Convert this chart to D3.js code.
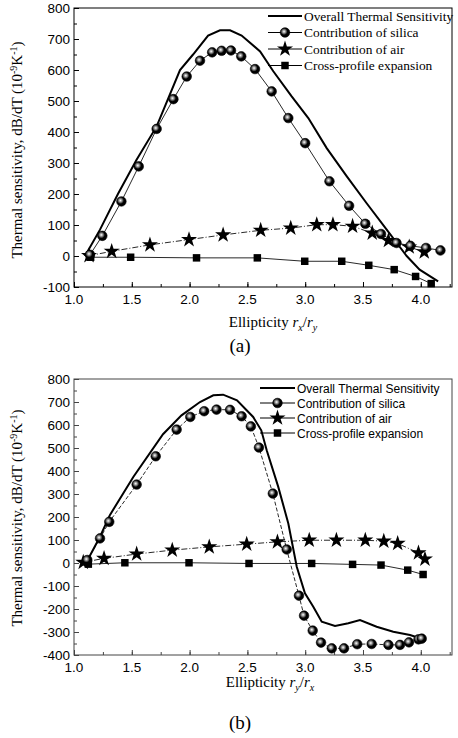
<!DOCTYPE html>
<html>
<head>
<meta charset="utf-8">
<script src="https://cdn.jsdelivr.net/npm/d3@7"></script>
<style>
  body { margin: 0; background: #fff; }
  svg { display: block; }
</style>
</head>
<body>
<div id="chart"></div>
<script>
// ---------- data ----------
let xTicks = [1.0, 1.5, 2.0, 2.5, 3.0, 3.5, 4.0];
let yTicksA = [-100, 0, 100, 200, 300, 400, 500, 600, 700, 800];
let yTicksB = [-400, -300, -200, -100, 0, 100, 200, 300, 400, 500, 600, 700, 800];
let seriesNames = ["Overall Thermal Sensitivity", "Contribution of silica", "Contribution of air", "Cross-profile expansion"];

// panel (a)
let totalA_x = [1.095, 1.225, 1.38, 1.54, 1.715, 1.917, 2.03, 2.16, 2.263, 2.35, 2.45, 2.61, 2.724, 2.883, 3.027, 3.186, 3.36, 3.53, 3.705, 3.878, 3.99, 4.15];
let totalA_y = [0, 85, 200, 310, 418, 600, 650, 711, 728, 728, 711, 660, 596, 515, 445, 348, 257, 171, 85, 0, -44, -82];
let silicaA_x = [1.138, 1.245, 1.41, 1.56, 1.715, 1.86, 1.975, 2.09, 2.195, 2.277, 2.358, 2.447, 2.566, 2.71, 2.854, 3.0, 3.21, 3.38, 3.52, 3.656, 3.79, 3.91, 4.045, 4.17];
let silicaA_y = [4, 65, 176, 289, 410, 506, 579, 630, 657, 662, 663, 644, 603, 531, 445, 364, 241, 162, 104, 71, 42, 33, 26, 18];
let airA_x = [1.13, 1.326, 1.657, 1.995, 2.29, 2.615, 2.875, 3.1, 3.24, 3.41, 3.58, 3.72, 3.9, 4.03];
let airA_y = [1, 15, 36, 53, 68, 83, 90, 101, 101, 96, 74, 50, 29, 13];
let crossA_x = [1.144, 1.49, 2.06, 2.586, 2.996, 3.316, 3.55, 3.77, 3.955, 4.09];
let crossA_y = [-4, -4, -6, -6, -17, -17, -30, -44, -66, -89];

// panel (b)
let totalB_x = [1.104, 1.225, 1.31, 1.513, 1.77, 1.93, 2.09, 2.205, 2.29, 2.41, 2.55, 2.62, 2.667, 2.767, 2.854, 2.927, 2.998, 3.07, 3.143, 3.258, 3.373, 3.474, 3.618, 3.762, 3.907, 3.993];
let totalB_y = [0, 114, 208, 374, 560, 642, 700, 729, 732, 707, 635, 577, 490, 331, 172, -16, -132, -190, -255, -274, -262, -248, -277, -299, -313, -327];
let silicaB_x = [1.115, 1.225, 1.305, 1.542, 1.707, 1.888, 2.006, 2.126, 2.233, 2.35, 2.45, 2.53, 2.6, 2.72, 2.84, 2.946, 2.99, 3.065, 3.137, 3.23, 3.336, 3.45, 3.575, 3.72, 3.82, 3.898, 3.98, 4.008];
let silicaB_y = [13, 107, 179, 341, 464, 580, 635, 660, 667, 666, 638, 594, 502, 302, 59, -142, -229, -294, -346, -371, -371, -353, -352, -356, -356, -345, -332, -329];
let airB_x = [1.08, 1.26, 1.542, 1.85, 2.17, 2.494, 2.76, 3.035, 3.27, 3.52, 3.68, 3.8, 3.98, 4.036];
let airB_y = [3, 20, 39, 56, 70, 82, 92, 99, 99, 99, 95, 85, 44, 17];
let crossB_x = [1.124, 1.44, 1.995, 2.514, 3.056, 3.41, 3.656, 3.887, 4.02];
let crossB_y = [-5, 1, 1, -2, -2, -6, -9, -31, -50];


class PanelVis {

    constructor(svg, cfg){
        this.svg = svg;
        this.cfg = cfg;
        this.initVis();
    }

    initVis(){
        let vis = this;
        let c = vis.cfg;

        vis.x = d3.scaleLinear().domain([1.0, 4.27]).range([c.left, c.right]);
        vis.y = d3.scaleLinear().domain(c.yDomain).range([c.bottom, c.top]);

        vis.g = vis.svg.append("g").attr("class", "panel");

        // frame
        vis.g.append("rect")
            .attr("x", c.left).attr("y", c.top)
            .attr("width", c.right - c.left).attr("height", c.bottom - c.top)
            .attr("fill", "none")
            .attr("stroke", c.frameColor)
            .attr("stroke-width", 1);

        // axes, ticks pointing inward
        let minorX = d3.range(1.0, 4.26, 0.25);
        let minorY = d3.range(c.yDomain[0], c.yDomain[1] + 1, 50);

        vis.xAxis = d3.axisTop(vis.x).tickValues(minorX).tickSize(3).tickFormat("");
        vis.g.append("g").attr("transform", `translate(0, ${c.bottom})`).call(vis.xAxis);
        vis.xAxisMajor = d3.axisTop(vis.x).tickValues(xTicks).tickSize(5).tickFormat("");
        vis.g.append("g").attr("transform", `translate(0, ${c.bottom})`).call(vis.xAxisMajor);

        vis.yAxis = d3.axisRight(vis.y).tickValues(minorY).tickSize(3).tickFormat("");
        vis.g.append("g").attr("transform", `translate(${c.left}, 0)`).call(vis.yAxis);
        vis.yAxisMajor = d3.axisRight(vis.y).tickValues(c.yTicks).tickSize(5).tickFormat("");
        vis.g.append("g").attr("transform", `translate(${c.left}, 0)`).call(vis.yAxisMajor);

        vis.g.selectAll(".domain").remove();
        vis.g.selectAll(".tick line").attr("stroke", c.frameColor);

        // tick labels
        vis.g.selectAll(".xlab")
            .data(xTicks)
            .join("text")
            .attr("class", "xlab")
            .attr("x", d => vis.x(d))
            .attr("y", c.bottom + 17)
            .attr("text-anchor", "middle")
            .attr("font-family", "Liberation Sans, Arial, sans-serif")
            .attr("font-size", "13.5px")
            .text(d => d.toFixed(1));

        vis.g.selectAll(".ylab")
            .data(c.yTicks)
            .join("text")
            .attr("class", "ylab")
            .attr("x", c.left - 4)
            .attr("y", d => vis.y(d) + 4.5)
            .attr("text-anchor", "end")
            .attr("font-family", "Liberation Sans, Arial, sans-serif")
            .attr("font-size", "13.5px")
            .text(d => d);

        // axis titles
        let serif = "Liberation Serif, Times New Roman, serif";
        let yt = vis.g.append("text")
            .attr("transform", `translate(${c.yTitleX}, ${c.yTitleY}) rotate(-90)`)
            .attr("text-anchor", "middle")
            .attr("font-family", serif)
            .attr("font-size", "15px");
        yt.append("tspan").text("Thermal sensitivity, dB/dT (10");
        yt.append("tspan").attr("dy", -5).attr("font-size", "10px").text("-9");
        yt.append("tspan").attr("dy", 5).text("K");
        yt.append("tspan").attr("dy", -5).attr("font-size", "10px").text("-1");
        yt.append("tspan").attr("dy", 5).text(")");

        let xt = vis.g.append("text")
            .attr("x", c.xTitleX)
            .attr("y", c.xTitleY)
            .attr("text-anchor", "middle")
            .attr("font-family", serif)
            .attr("font-size", "15px");
        xt.append("tspan").text("Ellipticity ");
        xt.append("tspan").attr("font-style", "italic").text("r");
        xt.append("tspan").attr("font-style", "italic").attr("font-size", "10px").attr("dy", 4).text(c.sub1);
        xt.append("tspan").attr("dy", -4).text("/");
        xt.append("tspan").attr("font-style", "italic").text("r");
        xt.append("tspan").attr("font-style", "italic").attr("font-size", "10px").attr("dy", 4).text(c.sub2);

        vis.g.append("text")
            .attr("x", 240)
            .attr("y", c.tagY)
            .attr("text-anchor", "middle")
            .attr("font-family", serif)
            .attr("font-size", "19px")
            .text(c.tag);

        vis.updateVis();
    }

    updateVis(){
        let vis = this;
        let c = vis.cfg;

        let toPts = (xs, ys) => xs.map((d, i) => ({x: d, y: ys[i]}));
        let line = d3.line().x(d => vis.x(d.x)).y(d => vis.y(d.y));

        let total = toPts(c.total[0], c.total[1]);
        let silica = toPts(c.silica[0], c.silica[1]);
        let air = toPts(c.air[0], c.air[1]);
        let cross = toPts(c.cross[0], c.cross[1]);

        // thin connecting lines
        vis.g.append("path").datum(silica).attr("d", line)
            .attr("fill", "none").attr("stroke", "#111").attr("stroke-width", 0.9)
            .attr("stroke-dasharray", c.silicaDash);
        vis.g.append("path").datum(air).attr("d", line)
            .attr("fill", "none").attr("stroke", "#111").attr("stroke-width", 0.9)
            .attr("stroke-dasharray", "6,2,1,2");
        vis.g.append("path").datum(cross).attr("d", line)
            .attr("fill", "none").attr("stroke", "#111").attr("stroke-width", 0.9);

        // overall line
        vis.g.append("path").datum(total).attr("d", line)
            .attr("fill", "none").attr("stroke", "#000").attr("stroke-width", 2);

        // markers
        vis.drawMarkers(cross, "square");
        vis.drawMarkers(air, "star");
        vis.drawMarkers(silica, "circle");

        // legend
        let lg = vis.g.append("g").attr("class", "legend");
        seriesNames.forEach((name, i) => {
            let yy = c.legTop + i * c.legStep;
            lg.append("line")
                .attr("x1", c.legX1).attr("x2", c.legX2)
                .attr("y1", yy).attr("y2", yy)
                .attr("stroke", "#000")
                .attr("stroke-width", i === 0 ? 2 : 1);
            let mx = (c.legX1 + c.legX2) / 2;
            if (i === 1) vis.marker(lg, mx, yy, "circle");
            if (i === 2) vis.marker(lg, mx, yy, "star");
            if (i === 3) vis.marker(lg, mx, yy, "square");
            lg.append("text")
                .attr("x", c.legX2 + 2)
                .attr("y", yy + 4.5)
                .attr("font-family", c.legFont)
                .attr("font-size", c.legSize)
                .text(name);
        });
    }

    drawMarkers(pts, kind){
        let vis = this;
        pts.forEach(p => vis.marker(vis.g, vis.x(p.x), vis.y(p.y), kind));
    }

    marker(sel, x, y, kind){
        if (kind === "circle") {
            sel.append("circle").attr("cx", x).attr("cy", y).attr("r", 4.8)
                .attr("fill", "url(#ball)").attr("stroke", "#000").attr("stroke-width", 0.6);
        } else if (kind === "star") {
            sel.append("path").attr("transform", `translate(${x},${y})`)
                .attr("d", d3.symbol().type(d3.symbolStar).size(80)()).attr("fill", "#000");
        } else {
            sel.append("path").attr("transform", `translate(${x},${y})`)
                .attr("d", d3.symbol().type(d3.symbolSquare).size(56)()).attr("fill", "#000");
        }
    }
}

let svg = d3.select("#chart").append("svg")
    .attr("width", 458)
    .attr("height", 738);

let grad = svg.append("defs").append("radialGradient")
    .attr("id", "ball").attr("cx", "40%").attr("cy", "40%").attr("r", "60%");
grad.append("stop").attr("offset", "0%").attr("stop-color", "#fff");
grad.append("stop").attr("offset", "30%").attr("stop-color", "#888");
grad.append("stop").attr("offset", "60%").attr("stop-color", "#000");
grad.append("stop").attr("offset", "100%").attr("stop-color", "#000");

new PanelVis(svg, {
    left: 74, right: 452, top: 8, bottom: 287,
    yDomain: [-100, 800], yTicks: yTicksA,
    frameColor: "#000",
    yTitleX: 22, yTitleY: 150,
    xTitleX: 273, xTitleY: 327, sub1: "x", sub2: "y",
    tag: "(a)", tagY: 352,
    total: [totalA_x, totalA_y], silica: [silicaA_x, silicaA_y],
    air: [airA_x, airA_y], cross: [crossA_x, crossA_y],
    silicaDash: null,
    legX1: 268, legX2: 302, legTop: 16, legStep: 16.5,
    legFont: "Liberation Serif, Times New Roman, serif", legSize: "13.4px"
});

new PanelVis(svg, {
    left: 74, right: 452, top: 379, bottom: 655,
    yDomain: [-400, 800], yTicks: yTicksB,
    frameColor: "#444",
    yTitleX: 22, yTitleY: 518,
    xTitleX: 270, xTitleY: 687, sub1: "y", sub2: "x",
    tag: "(b)", tagY: 729,
    total: [totalB_x, totalB_y], silica: [silicaB_x, silicaB_y],
    air: [airB_x, airB_y], cross: [crossB_x, crossB_y],
    silicaDash: "4,2",
    legX1: 260, legX2: 295, legTop: 388, legStep: 15,
    legFont: "Liberation Sans, Arial, sans-serif", legSize: "12px"
});
</script>
</body>
</html>
